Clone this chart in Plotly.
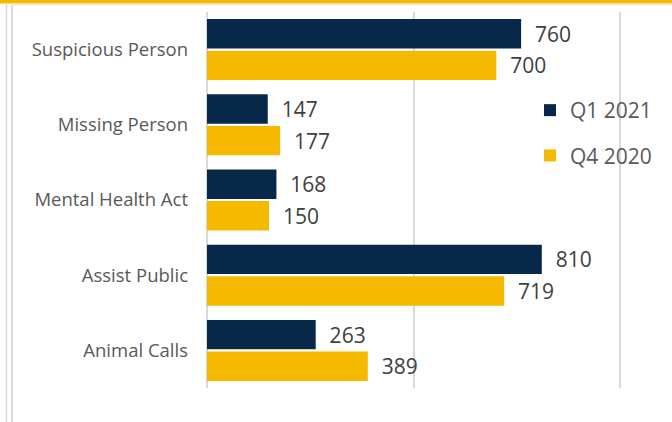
import plotly.graph_objects as go

categories = ["Suspicious Person", "Missing Person", "Mental Health Act", "Assist Public", "Animal Calls"]
q1_2021 = [760, 147, 168, 810, 263]
q4_2020 = [700, 177, 150, 719, 389]
series_names = ["Q1 2021", "Q4 2020"]
colors = ["#08284A", "#F5B900"]

W, H = 672, 422
ML, MR, MT, MB = 207, 50, 12, 34
pw, ph = W - ML - MR, H - MT - MB

def px_x(px):
    return (px - ML) / pw

def px_y(py):
    return (H - MB - py) / ph

font = "Open Sans, Noto Sans, sans-serif"

fig = go.Figure()
for name, vals, col in zip(series_names, [q1_2021, q4_2020], colors):
    fig.add_trace(go.Bar(
        y=categories, x=vals, name=name, orientation="h",
        marker=dict(color=col, line=dict(width=0)),
        text=vals, texttemplate="\u00a0\u00a0%{x}", textposition="outside",
        textfont=dict(size=21, color="#404040", family=font),
        cliponaxis=False, legendgroup=name,
    ))

shapes = [
    dict(type="rect", xref="paper", yref="paper", x0=px_x(0), x1=px_x(W), y0=px_y(3.5), y1=px_y(0),
         fillcolor="#F5B900", line=dict(width=0), layer="above"),
    dict(type="line", xref="paper", yref="paper", x0=px_x(12), x1=px_x(W), y0=px_y(4.5), y1=px_y(4.5),
         line=dict(color="#E3E3E3", width=1.5)),
    dict(type="line", xref="paper", yref="paper", x0=px_x(6.5), x1=px_x(6.5), y0=px_y(H), y1=px_y(3.5),
         line=dict(color="#D9D9D9", width=1.5)),
    dict(type="line", xref="paper", yref="paper", x0=px_x(12), x1=px_x(12), y0=px_y(H), y1=px_y(4.5),
         line=dict(color="#D9D9D9", width=2)),
]

fig.update_layout(
    width=W, height=H,
    margin=dict(l=ML, r=MR, t=MT, b=MB),
    paper_bgcolor="white", plot_bgcolor="white",
    barmode="group", bargap=0.16, bargroupgap=0.07,
    font=dict(family=font, color="#595959"),
    xaxis=dict(range=[0, 1004], tickvals=[0, 500, 1000], showticklabels=False, showgrid=True,
               gridcolor="#D9D9D9", gridwidth=1.5, zeroline=True, zerolinecolor="#D9D9D9",
               zerolinewidth=1.5, fixedrange=True),
    yaxis=dict(categoryorder="array", categoryarray=categories, autorange="reversed",
               tickfont=dict(size=18.5, color="#595959", family=font), ticklabelstandoff=18,
               showgrid=False, zeroline=False, fixedrange=True),
    legend=dict(x=px_x(530), y=px_y(90), xanchor="left", yanchor="top",
                font=dict(size=21, color="#595959", family=font),
                traceorder="grouped", tracegroupgap=15, bgcolor="rgba(0,0,0,0)",
                itemclick=False),
    showlegend=True,
    shapes=shapes,
)

fig.write_html("out.html")
